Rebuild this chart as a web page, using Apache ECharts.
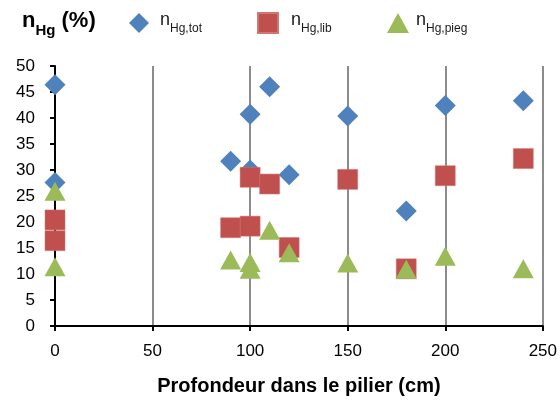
<!DOCTYPE html>
<html><head><meta charset="utf-8">
<script src="https://cdn.jsdelivr.net/npm/echarts@6/dist/echarts.min.js"></script>
<style>html,body{margin:0;padding:0;background:#fff}#c{width:560px;height:405px}</style>
</head><body><div id="c"></div>
<script>
var xTicks = [0, 50, 100, 150, 200, 250];
var yTicks = [0, 5, 10, 15, 20, 25, 30, 35, 40, 45, 50];
var seriesNames = ['tot', 'lib', 'pieg'];
var totX = [0, 0, 90, 100, 100, 110, 120, 150, 180, 200, 240];
var totY = [46.4, 27.6, 31.7, 40.7, 30.0, 46.0, 29.1, 40.4, 22.1, 42.4, 43.3];
var libX = [0, 0, 90, 100, 100, 110, 120, 150, 180, 200, 240];
var libY = [20.4, 16.4, 18.9, 19.2, 28.6, 27.3, 15.1, 28.2, 11.0, 28.9, 32.2];
var piegX = [0, 0, 90, 100, 100, 110, 120, 150, 180, 200, 240];
var piegY = [25.9, 11.4, 12.7, 12.2, 10.9, 18.4, 14.1, 12.1, 10.9, 13.4, 11.0];

function pairs(xs, ys){ return xs.map(function(x,i){ return [x, ys[i]]; }); }
var FONT = 'Liberation Sans';
var rich = {
  n: {fontSize: 18, fontFamily: FONT, color: '#1a1a1a', lineHeight: 24, verticalAlign: 'top'},
  s: {fontSize: 12, fontFamily: FONT, color: '#1a1a1a', lineHeight: 13, verticalAlign: 'bottom'}
};
function legendFmt(name){ return '{n|n}{s|Hg,' + name + '}'; }
var chart = echarts.init(document.getElementById('c'));
chart.setOption({
  animation: false,
  backgroundColor: '#fff',
  title: {
    text: '{b|n}{bs|Hg}{b| (%)}',
    left: 17, top: 5,
    textStyle: {
      rich: {
        b: {fontSize: 22, fontWeight: 'bold', fontFamily: FONT, color: '#000', lineHeight: 28, verticalAlign: 'top'},
        bs: {fontSize: 15, fontWeight: 'bold', fontFamily: FONT, color: '#000', lineHeight: 15, verticalAlign: 'bottom'}
      }
    }
  },
  legend: [
    {data: ['tot'], left: 124, top: 6, itemWidth: 20, itemHeight: 20, formatter: legendFmt, textStyle: {rich: rich, padding: [0,0,0,6]}, selectedMode: false},
    {data: ['lib'], left: 252, top: 6, itemWidth: 20, itemHeight: 20, formatter: legendFmt, textStyle: {rich: rich, padding: [0,0,0,8]}, selectedMode: false},
    {data: ['pieg'], left: 382, top: 6, itemWidth: 22, itemHeight: 20, formatter: legendFmt, textStyle: {rich: rich, padding: [0,0,0,2]}, selectedMode: false}
  ],
  grid: {left: 55, right: 17, top: 66, bottom: 79},
  xAxis: {
    type: 'value', min: xTicks[0], max: xTicks[xTicks.length-1], interval: 50,
    name: 'Profondeur dans le pilier (cm)', nameLocation: 'middle', nameGap: 50,
    nameTextStyle: {fontSize: 20, fontWeight: 'bold', fontFamily: FONT, color: '#000'},
    axisLine: {show: true, lineStyle: {color: '#000', width: 2}},
    axisTick: {show: true, length: 5, lineStyle: {color: '#000', width: 2}},
    axisLabel: {fontSize: 17, fontFamily: FONT, color: '#000', margin: 17},
    splitLine: {show: true, lineStyle: {color: '#8c8c8c', width: 2}}
  },
  yAxis: {
    type: 'value', min: yTicks[0], max: yTicks[yTicks.length-1], interval: 5,
    axisLine: {show: true, lineStyle: {color: '#000', width: 2}},
    axisTick: {show: true, length: 5, lineStyle: {color: '#000', width: 2}},
    axisLabel: {fontSize: 17, fontFamily: FONT, color: '#000', margin: 20},
    splitLine: {show: false}
  },
  series: [
    {name: 'tot', type: 'scatter', symbol: 'diamond', symbolSize: [21, 21], data: pairs(totX, totY), itemStyle: {color: '#4F81BD', opacity: 1}},
    {name: 'lib', type: 'scatter', symbol: 'rect', symbolSize: [20, 20], data: pairs(libX, libY), itemStyle: {color: '#C0504D', opacity: 1, borderColor: '#d07774', borderWidth: 0.5}},
    {name: 'pieg', type: 'scatter', symbol: 'triangle', symbolSize: [21, 19], data: pairs(piegX, piegY), itemStyle: {color: '#9BBB59', opacity: 1}}
  ]
});
</script></body></html>
